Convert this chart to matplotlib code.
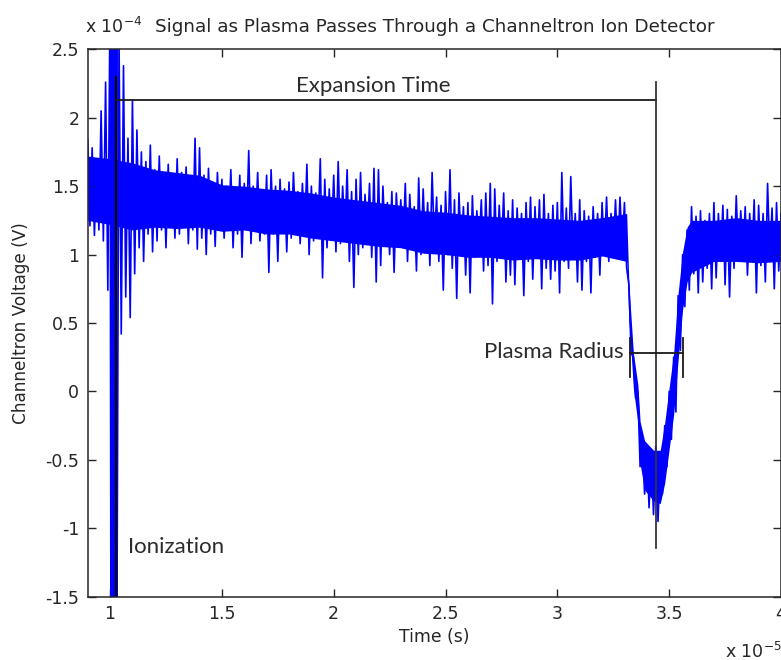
import numpy as np
import matplotlib
matplotlib.use('Agg')
import matplotlib.pyplot as plt

plt.rcParams['axes.unicode_minus'] = False
plt.rcParams['font.family'] = ['DejaVu Sans']

# time in units of 1e-5 s, sampled every 0.01
t_start, t_step = 0.90, 0.01

# channeltron voltage in units of 1e-4 V (one row = 0.1 of time)
v_pre = [1.84, 1.21, 1.78, 1.14, 1.70, 1.18, 2.05, 1.10, 2.26, 0.74]          # 0.90
v_ion = [2.90, -2.00, 2.90, -2.00, 2.60, 0.42, 2.38, 0.69, 1.85, 0.54]        # 1.00
v_decay = [
    2.13, 0.86, 1.91, 1.05, 1.75, 0.95, 1.68, 1.15, 1.80, 1.02,               # 1.10
    1.62, 1.10, 1.72, 1.18, 1.58, 1.05, 1.66, 1.20, 1.55, 1.12,               # 1.20
    1.70, 1.15, 1.60, 1.22, 1.64, 1.08, 1.55, 1.18, 1.85, 1.04,               # 1.30
    1.78, 1.12, 1.58, 1.00, 1.63, 1.15, 1.52, 1.06, 1.60, 1.18,               # 1.40
]
v_flat = [
    1.55, 1.12, 1.50, 1.20, 1.62, 1.05, 1.48, 1.15, 1.58, 0.98,               # 1.50
    1.52, 1.18, 1.76, 1.08, 1.50, 1.22, 1.60, 1.10, 1.47, 1.15,               # 1.60
    1.58, 0.87, 1.62, 1.15, 1.50, 0.95, 1.55, 1.18, 1.48, 1.02,               # 1.70
    1.53, 1.12, 1.60, 1.20, 1.46, 1.08, 1.52, 1.15, 1.66, 1.00,               # 1.80
    1.50, 1.10, 1.45, 1.18, 1.70, 0.83, 1.55, 1.05, 1.48, 1.12,               # 1.90
    1.58, 1.02, 1.68, 1.08, 1.50, 1.15, 1.62, 0.95, 1.46, 0.76,               # 2.00
    1.55, 1.00, 1.60, 1.05, 1.44, 1.12, 1.52, 0.98, 1.63, 0.80,               # 2.10
    1.62, 0.92, 1.50, 1.10, 1.38, 1.00, 1.46, 0.87, 1.45, 1.12,               # 2.20
    1.40, 1.05, 1.52, 0.95, 1.44, 1.10, 1.35, 0.88, 1.56, 1.00,               # 2.30
    1.48, 1.04, 1.38, 0.92, 1.60, 1.08, 1.42, 0.95, 1.36, 0.74,               # 2.40
    1.46, 1.00, 1.62, 0.90, 1.40, 0.68, 1.45, 1.05, 1.35, 0.85,               # 2.50
    1.38, 0.72, 1.43, 0.98, 1.32, 1.05, 1.40, 0.88, 1.45, 0.92,               # 2.60
    1.52, 0.64, 1.48, 0.95, 1.36, 1.02, 1.45, 0.80, 1.32, 0.85,               # 2.70
    1.40, 0.78, 1.34, 1.00, 1.30, 0.70, 1.38, 0.95, 1.42, 0.82,               # 2.80
    1.35, 0.98, 1.40, 0.75, 1.44, 0.90, 1.30, 0.82, 1.36, 0.88,               # 2.90
    1.38, 0.72, 1.60, 0.95, 1.34, 0.90, 1.57, 1.00, 1.30, 0.80,               # 3.00
    1.40, 0.74, 1.32, 0.95, 1.28, 0.72, 1.35, 0.98, 1.30, 0.85,               # 3.10
    1.38, 1.00, 1.42, 0.95, 1.30, 1.02, 1.40, 0.98, 1.42, 1.05,               # 3.20
]
v_dip = [
    1.38, 0.90, 0.78, 0.28, 0.25, -0.05, 0.00, -0.55, -0.35, -0.75,           # 3.30
    -0.40, -0.85, -0.45, -0.90, -0.40, -0.95, -0.50, -0.75, -0.25, -0.55,     # 3.40
    0.00, -0.35, 0.25, -0.15, 0.70, 0.30, 1.00, 0.62, 1.18, 0.74,             # 3.50
]
v_post = [
    1.35, 0.86, 1.28, 0.72, 1.32, 0.80, 1.25, 0.90, 1.30, 0.75,               # 3.60
    1.38, 0.83, 1.30, 0.95, 1.36, 0.78, 1.33, 0.69, 1.28, 0.90,               # 3.70
    1.43, 0.95, 1.32, 1.00, 1.35, 0.85, 1.30, 0.98, 1.40, 0.72,               # 3.80
    1.36, 0.92, 1.30, 0.80, 1.52, 0.98, 1.34, 0.75, 1.38, 0.88,               # 3.90
    1.30,                                                                     # 4.00
]

signal = np.array(v_pre + v_ion + v_decay + v_flat + v_dip + v_post)
time = t_start + t_step * np.arange(len(signal))

# the ionization burst, sampled finer
burst_t = [1.000, 1.004, 1.008, 1.012, 1.016, 1.020, 1.024, 1.028, 1.032]
burst_v = [2.90, -2.00, 2.90, -2.00, 2.90, -2.00, 2.90, -2.00, 2.90]

# dense core of the noise band (lower / upper edge)
core_t = [0.90, 1.00, 1.10, 1.20, 1.30, 1.40, 1.50, 1.60, 1.70, 1.80, 1.90,
          2.00, 2.10, 2.20, 2.30, 2.40, 2.50, 2.60, 2.70, 2.80, 2.90, 3.00,
          3.10, 3.20, 3.31, 3.32, 3.33, 3.34, 3.36, 3.37, 3.39, 3.43, 3.46,
          3.48, 3.50, 3.52, 3.54, 3.56, 3.58, 3.60, 3.70, 3.80, 3.90, 4.00]
core_lo = [1.25, 1.22, 1.18, 1.20, 1.19, 1.20, 1.17, 1.18, 1.15, 1.15, 1.12,
           1.10, 1.08, 1.06, 1.05, 1.01, 1.00, 0.98, 0.98, 0.96, 0.97, 0.96,
           0.96, 0.99, 0.95, 0.52, 0.28, 0.02, -0.23, -0.53, -0.72, -0.80, -0.82,
           -0.67, -0.42, -0.17, 0.23, 0.60, 0.80, 0.87, 0.95, 0.95, 0.94, 0.95]
core_hi = [1.72, 1.70, 1.67, 1.62, 1.60, 1.58, 1.51, 1.50, 1.48, 1.47, 1.45,
           1.42, 1.40, 1.38, 1.36, 1.32, 1.31, 1.29, 1.28, 1.27, 1.27, 1.26,
           1.25, 1.27, 1.30, 0.78, 0.53, 0.28, 0.05, -0.22, -0.36, -0.43, -0.43,
           -0.23, 0.03, 0.28, 0.72, 1.02, 1.20, 1.25, 1.25, 1.27, 1.25, 1.25]

# marker lines (time, voltage)
ion_t = 1.025
peak_t = 3.44
expansion_y = 2.13
radius_t = (3.325, 3.56)
radius_y = 0.278

fig = plt.figure(figsize=(7.81, 6.6), dpi=100)
ax = fig.add_axes([0.1123, 0.0959, 0.8877, 0.8294])

blue = '#0000ff'
ax.fill_between(core_t, core_lo, core_hi, color=blue, lw=0)
ax.plot(time, signal, color=blue, lw=1.2)
ax.plot(burst_t, burst_v, color=blue, lw=1.2)

line_kw = dict(color='#1a1a1a', lw=1.3)
ax.plot([ion_t, ion_t], [-1.5, 2.295], color='k', lw=1.6)
ax.plot([ion_t, peak_t], [expansion_y, expansion_y], **line_kw)
ax.plot([peak_t, peak_t], [2.26, -1.145], color='#333333', lw=1.3)
ax.plot(radius_t, [radius_y, radius_y], **line_kw)
for rt in radius_t:
    ax.plot([rt, rt], [radius_y - 0.17, radius_y + 0.11], **line_kw)

note_kw = dict(family='Lato', fontsize=16, color='#2b2b2b')
ax.text(2.178, 2.232, 'Expansion Time', ha='center', va='center', **note_kw)
ax.text(3.295, 0.29, 'Plasma Radius', ha='right', va='center', **note_kw)
ax.text(1.081, -1.138, 'Ionization', ha='left', va='center', **note_kw)

ax.set_xlim(0.9, 4.0)
ax.set_ylim(-1.5, 2.5)
ax.set_xticks([1, 1.5, 2, 2.5, 3, 3.5, 4])
ax.set_xticklabels(['1', '1.5', '2', '2.5', '3', '3.5', '4'])
ax.set_yticks([-1.5, -1, -0.5, 0, 0.5, 1, 1.5, 2, 2.5])
ax.set_yticklabels(['-1.5', '-1', '-0.5', '0', '0.5', '1', '1.5', '2', '2.5'])
ax.tick_params(direction='in', length=6, width=1.0, top=True, right=True,
               labelsize=12.5, colors='#262626', pad=6)
for s in ax.spines.values():
    s.set_color('#262626')
    s.set_linewidth(1.1)

ax.set_xlabel('Time (s)', fontsize=12.4, color='#262626')
ax.xaxis.set_label_coords(0.5, -0.058)
ax.set_ylabel('Channeltron Voltage (V)', fontsize=12.2, color='#262626')
ax.yaxis.set_label_coords(-0.083, 0.5)

ax.text(0.5, 1.041, 'Signal as Plasma Passes Through a Channeltron Ion Detector',
        transform=ax.transAxes, ha='center', va='center', fontsize=13.2, color='#262626')
ax.text(-0.004, 1.041, 'x 10$^{-4}$', transform=ax.transAxes, ha='left', va='center',
        fontsize=12.5, color='#262626')
fig.text(725 / 781, 1 - 652 / 660, 'x 10$^{-5}$', ha='left', va='center',
         fontsize=12.5, color='#262626')

fig.savefig('out.png', dpi=100)
